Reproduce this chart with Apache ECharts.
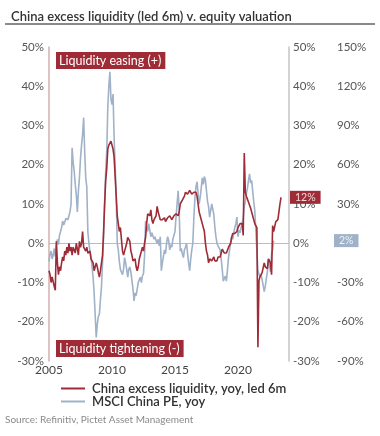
<!DOCTYPE html>
<html><head><meta charset="utf-8">
<script src="https://cdn.jsdelivr.net/npm/echarts@6/dist/echarts.min.js"></script>
<style>html,body{margin:0;padding:0;background:#fff}#c{width:380px;height:436px}</style>
</head><body><div id="c"></div>
<script>
const startYear = 2005;
const titleText = 'China excess liquidity (led 6m) v. equity valuation';
const sourceText = 'Source: Refinitiv, Pictet Asset Management';
const seriesNames = ['China excess liquidity, yoy, led 6m', 'MSCI China PE, yoy'];
const xTickLabels = [2005, 2010, 2015, 2020];
const leftAxisRange = [-30, 50, 10];
const thirdAxisRange = [-90, 150, 30];
// monthly values from Jan 2005, left axis (%)
const liquidity = [
 -7, -8, -10, -8.6, -9, -11, -12, 0.5, -5, -8, -6, -7,
 -5, -3.5, -4.5, -2, -3, -1, -2.5, 0, -2, -1, -3, -1,
 -1.5, -2.5, 0, -1.5, -3, 0.5, -1, 0, 3, -1, -0.5, -2,
 -1, -2.5, -3, -2, -4, -3.5, -5, -7, -6.5, -5, -6, -7.5,
 -8.6, -7, -5, -3, 3, 10, 16, 19, 24, 25, 24.5, 26,
 25.5, 24, 22, 17, 12, 7, 5, 3, 4, 1, -2, -3,
 -2, -1, 0, 1.5, 1, 0.5, -2, -3, -4.5, -5, -4, -6,
 -7, -6, -4, -3.5, -2, -1, -2, 0, 1.5, 5, 7.5, 8,
 7, 8.5, 6, 5, 6, 5.5, 7, 9.4, 8, 7.5, 6, 5.5,
 6, 5.5, 6.5, 5.5, 6, 6.5, 6, 7, 6.5, 6, 6.5, 7,
 6.5, 7.5, 8, 7, 8, 10, 9.5, 11, 11, 12, 13, 12.5,
 12.5, 13, 13.5, 13, 12.5, 13, 13, 13.5, 13, 12, 10, 8,
 7, 6, 5, 4.5, 3, 0, -2, -3, -5, -4, -3.5, -4.5,
 -4, -3.5, -4.5, -4, -4.5, -3.5, -3, -3.5, -2.5, -1.5, -2, -2.5,
 -3, -2.5, -2, -1, -1.5, 0, 1.5, 2.5, 2, 2.5, 2, 3,
 4, 3.5, 5, 4.5, 5, 2, 23, 13, 12, 11.5, 10.5, 10,
 9, 8, 7, 6.5, 5, 4.5, 4, -26.5, -9.5, -8.5, -9, -7.5,
 -7, -5, -6, -5.5, -6.5, -4, -3.5, -5, -8, 4.5, 3, 3.5,
 5.5, 5, 6, 8, 10, 11.7
];
// monthly values from Jan 2005, third axis (%)
const msciPE = [
 -14, -8, -6, -12, -9, -4, -10, -2, 3, -1, 6, 9,
 12, 17, 14, 16, 19, 20, 18, 21, 24, 30, 73, 62,
 55, 45, 37, 24, 40, 50, 65, 75, 83, 96, 70, 50,
 43, 9, 0, -6, -10, -18, -26, -38, -55, -72, -62, -56,
 -54, -43, -33, -15, 5, 32, 55, 70, 104, 120, 131, 110,
 106, 114, 81, 60, 37, 0, -5, -14, -20, -22, -24, -20,
 -11, -15, -20, -26, -20, -18, -22, -23, -35, -44, -38, -40,
 -35, -30, -28, -26, -30, -25, -23, -10, 17, 12, 9, 15,
 10, 5, 8, 7, 3, 5, 2, 0, 3, -2, 5, -21,
 -15, -10, -5, -8, 0, 5, 2, -5, -1, -3, 3, 6,
 9, 20, 30, 40, 25, -6, -4, -8, -11, -5, -3, 0,
 -8, -15, -21, -12, -5, 0, 20, 35, 43, 47, 38, 30,
 35, 42, 50, 45, 51, 48, 40, 32, 28, 20, 25, 30,
 30, 22, 12, 5, 0, -2, -3, -5, -12, -20, -29, -27,
 -25, -29, -20, -11, -5, 0, 5, 3, 8, 12, 15, 20,
 5, 10, 8, 12, 15, 20, 28, 32, 38, 42, 48, 53,
 46, 48, 40, 32, 25, 10, -6, -21, -22, -26, -24, -28,
 -32, -37, -33, -27, -22, -12, -17, -22, -8, -5, 2
];
const RED = '#9e2b35';
const BLUE = '#9fb2c8';
const FONT = 'Lato';

const toXY = arr => arr.map((v, i) => [startYear + i / 12, v]);

const chart = echarts.init(document.getElementById('c'));
const axisLabelStyle = { color: '#555', fontSize: 11.5, fontFamily: FONT };
const pct = v => v + '%';

chart.setOption({
  animation: false,
  backgroundColor: '#fff',
  textStyle: { fontFamily: FONT },
  title: {
    text: titleText, left: 6, top: 5,
    textStyle: { fontSize: 13, fontWeight: 600, color: '#333', fontFamily: FONT }
  },
  grid: { left: 49, right: 91, top: 47, bottom: 75, containLabel: false },
  legend: {
    orient: 'vertical', left: 56, top: 377, itemGap: 0,
    itemWidth: 24, itemHeight: 2, icon: 'rect',
    textStyle: { fontSize: 13, lineHeight: 13, fontWeight: 600, color: '#333', fontFamily: FONT, padding: [0, 0, 0, 2] },
    data: seriesNames
  },
  xAxis: {
    type: 'value', min: startYear, max: 2024.05, interval: 5,
    axisLine: { show: true, lineStyle: { color: '#bdbdbd', width: 1 } },
    axisTick: { show: false }, splitLine: { show: false },
    axisLabel: { ...axisLabelStyle, color: '#444', fontSize: 12, margin: 3,
      formatter: v => xTickLabels.includes(Math.round(v)) && Math.abs(v - Math.round(v)) < 1e-6 ? String(Math.round(v)) : '' }
  },
  yAxis: [
    { type: 'value', min: leftAxisRange[0], max: leftAxisRange[1], interval: leftAxisRange[2], position: 'left',
      axisLine: { show: true, lineStyle: { color: '#d2b0ae', width: 1.5 } },
      axisTick: { show: false }, splitLine: { show: false },
      axisLabel: { ...axisLabelStyle, margin: 5, formatter: pct } },
    { type: 'value', min: leftAxisRange[0], max: leftAxisRange[1], interval: leftAxisRange[2], position: 'right',
      axisLine: { show: true, lineStyle: { color: '#c4c4c4', width: 1.5 } },
      axisTick: { show: false }, splitLine: { show: false },
      axisLabel: { ...axisLabelStyle, margin: 4, formatter: pct } },
    { type: 'value', min: thirdAxisRange[0], max: thirdAxisRange[1], interval: thirdAxisRange[2], position: 'right', offset: 48,
      axisLine: { show: false }, axisTick: { show: false }, splitLine: { show: false },
      axisLabel: { ...axisLabelStyle, margin: 0, formatter: pct } }
  ],
  series: [
    { name: seriesNames[0], type: 'line', yAxisIndex: 0, data: toXY(liquidity), showSymbol: false, symbol: 'none',
      lineStyle: { color: RED, width: 1.6 }, itemStyle: { color: RED }, z: 3 },
    { name: seriesNames[1], type: 'line', yAxisIndex: 2, data: toXY(msciPE), showSymbol: false, symbol: 'none',
      lineStyle: { color: BLUE, width: 1.6 }, itemStyle: { color: BLUE }, z: 2 }
  ]
});

const lastRed = liquidity[liquidity.length - 1];
const lastBlue = msciPE[msciPE.length - 1];
const yRed = chart.convertToPixel({ yAxisIndex: 0 }, lastRed);
const yBlue = chart.convertToPixel({ yAxisIndex: 2 }, lastBlue);
const boxText = { fill: '#fff', fontSize: 12.5, fontFamily: FONT, padding: [2, 4, 2, 3] };

chart.setOption({
  graphic: [
    { type: 'line', shape: { x1: 5, y1: 24, x2: 375, y2: 24 }, style: { stroke: '#8a8a8a', lineWidth: 2 } },
    { type: 'text', left: 56, top: 52, z: 10,
      style: { ...boxText, text: 'Liquidity easing (+)', backgroundColor: RED } },
    { type: 'text', left: 56, top: 340, z: 10,
      style: { ...boxText, text: 'Liquidity tightening (-)', backgroundColor: RED } },
    { type: 'text', x: 290, y: yRed, z: 10,
      style: { text: Math.round(lastRed) + '%', fill: '#f3dada', fontSize: 10.5, fontFamily: FONT,
        backgroundColor: RED, padding: [1, 5, 1, 5], verticalAlign: 'middle' } },
    { type: 'text', x: 334, y: yBlue, z: 10,
      style: { text: Math.round(lastBlue) + '%', fill: '#eef2f7', fontSize: 10.5, fontFamily: FONT,
        backgroundColor: BLUE, padding: [1, 5, 1, 5], verticalAlign: 'middle' } },
    { type: 'text', left: 5, top: 415,
      style: { text: sourceText, fill: '#8a8a8a', fontSize: 10, fontFamily: FONT } }
  ]
});
</script></body></html>
